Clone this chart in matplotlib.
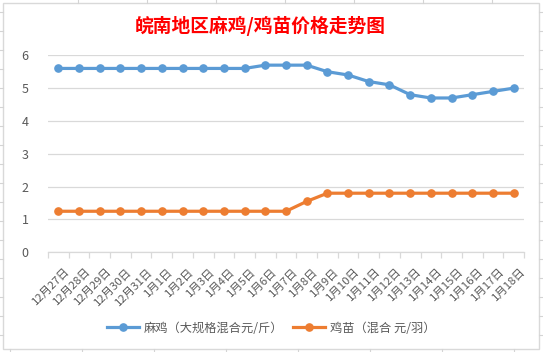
import numpy as np
import matplotlib
matplotlib.use("Agg")
import matplotlib.pyplot as plt
from matplotlib.lines import Line2D
from matplotlib.patches import Rectangle

plt.rcParams["font.family"] = ["Noto Sans CJK SC", "DejaVu Sans"]

# data
dates = ["12月27日", "12月28日", "12月29日", "12月30日", "12月31日",
         "1月1日", "1月2日", "1月3日", "1月4日", "1月5日", "1月6日",
         "1月7日", "1月8日", "1月9日", "1月10日", "1月11日", "1月12日",
         "1月13日", "1月14日", "1月15日", "1月16日", "1月17日", "1月18日"]
maji = [5.6, 5.6, 5.6, 5.6, 5.6, 5.6, 5.6, 5.6, 5.6, 5.6, 5.7,
        5.7, 5.7, 5.5, 5.4, 5.2, 5.1, 4.8, 4.7, 4.7, 4.8, 4.9, 5.0]
jimiao = [1.25, 1.25, 1.25, 1.25, 1.25, 1.25, 1.25, 1.25, 1.25, 1.25, 1.25,
          1.25, 1.55, 1.8, 1.8, 1.8, 1.8, 1.8, 1.8, 1.8, 1.8, 1.8, 1.8]
label_maji = "麻鸡（大规格混合元/斤）"
label_jimiao = "鸡苗（混合 元/羽）"
title = "皖南地区麻鸡/鸡苗价格走势图"

W, H = 543, 352
fig = plt.figure(figsize=(W / 100, H / 100), dpi=100)

# faint spreadsheet grid behind the chart object
grid_c = "#D4D4D4"
for y in range(12, H, 19):
    fig.add_artist(Line2D([0, 3 / W], [1 - y / H] * 2, color=grid_c, lw=0.8))
    fig.add_artist(Line2D([539 / W, 1], [1 - y / H] * 2, color=grid_c, lw=0.8))
for x in range(10, W, 72):
    fig.add_artist(Line2D([x / W] * 2, [0, 3 / H], color=grid_c, lw=0.8))
for x in range(78, W, 69):
    fig.add_artist(Line2D([x / W] * 2, [1 - 3 / H, 1], color=grid_c, lw=0.8))
fig.add_artist(Rectangle((3 / W, 3 / H), 536 / W, 346 / H, transform=fig.transFigure,
                         fill=False, edgecolor="#D9D9D9", lw=1.0))

ax = fig.add_axes([48 / W, (H - 252.3) / H, 476 / W, 197 / H])
x = np.arange(len(dates))
ax.plot(x, maji, color="#5B9BD5", lw=2.3, marker="o", markersize=5.2, label=label_maji, zorder=3)
ax.plot(x, jimiao, color="#ED7D31", lw=2.3, marker="o", markersize=5.2, label=label_jimiao, zorder=3)

ax.set_xlim(-0.5, len(dates) - 0.5)
ax.set_ylim(0, 6)
ax.set_yticks(range(7))
ax.yaxis.grid(True, color="#D9D9D9", lw=0.9)
ax.set_axisbelow(True)
for s in ["top", "right", "left"]:
    ax.spines[s].set_visible(False)
ax.spines["bottom"].set_color("#D9D9D9")
ax.spines["bottom"].set_linewidth(0.9)

ax.set_xticks(np.append(x - 0.5, len(dates) - 0.5))
ax.set_xticklabels([])
ax.tick_params(axis="x", length=4, color="#D9D9D9", width=0.9)
ax.tick_params(axis="y", length=0, labelsize=9, labelcolor="#595959", pad=14)
for i, d in enumerate(dates):
    ax.text(i + 0.3, -0.42, d, rotation=45, ha="right", va="top", rotation_mode="anchor",
            fontsize=8.2, color="#595959")

fig.text(0.48, 1 - 26 / H, title, ha="center", va="center", color="#FF0000",
         fontsize=13.5, fontweight="bold")

fig.legend(loc="center", bbox_to_anchor=(0.5, 1 - 328 / H), ncol=2, frameon=False,
           fontsize=8.8, labelcolor="#595959", handlelength=2.6, columnspacing=0.8,
           handletextpad=0.4)

fig.savefig("out.png", dpi=100)
